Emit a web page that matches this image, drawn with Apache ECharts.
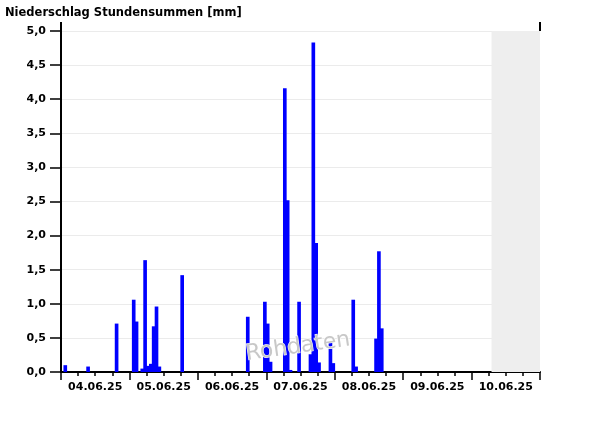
<!DOCTYPE html>
<html>
<head>
<meta charset="utf-8">
<script src="https://cdn.jsdelivr.net/npm/echarts@6/dist/echarts.min.js"></script>
<style>html,body{margin:0;padding:0;background:#fff}#c{width:600px;height:426px}</style>
</head>
<body>
<div id="c"></div>
<script>
// hour index from 04.06.25 00:00 (start of the hourly interval)
const hours = [1, 9, 19, 25, 26, 28, 29, 30, 31, 32, 33, 34, 42, 65, 71, 72, 73, 78, 79, 80, 83, 87, 88, 89, 90, 94, 95, 102, 103, 110, 111, 112];
// precipitation per hour [mm]
const values = [0.10, 0.08, 0.71, 1.06, 0.74, 0.05, 1.64, 0.09, 0.12, 0.67, 0.96, 0.08, 1.42, 0.81, 1.03, 0.71, 0.15, 4.16, 2.52, 0.03, 1.03, 0.26, 4.83, 1.89, 0.14, 0.43, 0.13, 1.06, 0.08, 0.49, 1.77, 0.64];
const dateLabels = ['04.06.25', '05.06.25', '06.06.25', '07.06.25', '08.06.25', '09.06.25', '10.06.25'];
const forecastStart = 151; // hour where the grey (future) region begins
const rangeEnd = 168;

const FONT = 'DejaVu Sans';
const chart = echarts.init(document.getElementById('c'), null, {renderer: 'canvas'});
const data = hours.map((h, i) => [h + 0.5, values[i]]);

// hour width in pixels for the grid (left 61, right 60 on a 600px canvas)
const hourPx = (600 - 61 - 60) / rangeEnd;
const barPx = hourPx + 0.8;

chart.setOption({
  animation: false,
  backgroundColor: '#fff',
  title: {
    text: 'Niederschlag Stundensummen [mm]',
    left: 0, top: 2,
    textStyle: {fontFamily: FONT, fontSize: 11.5, fontWeight: 'bold', color: '#000'}
  },
  grid: {left: 61, right: 60, top: 31, bottom: 54, containLabel: false, outerBoundsMode: 'none'},
  xAxis: [{
    type: 'value', min: 0, max: rangeEnd, interval: 6,
    axisLine: {show: true, onZero: false, lineStyle: {color: '#000', width: 2}},
    axisTick: {show: true, length: 4, lineStyle: {color: '#000', width: 1.5}},
    axisLabel: {
      margin: 10,
      fontFamily: FONT, fontSize: 11, fontWeight: 'bold', color: '#000',
      showMinLabel: true, showMaxLabel: true,
      formatter: v => (v % 24 === 12 ? dateLabels[Math.floor(v / 24)] || '' : '')
    },
    splitLine: {show: false}
  }, {
    type: 'value', min: 0, max: rangeEnd, interval: 24, position: 'bottom',
    axisLine: {show: false},
    axisTick: {show: true, length: 8, lineStyle: {color: '#000', width: 1.5}},
    axisLabel: {show: false},
    splitLine: {show: false}
  }],
  yAxis: [{
    type: 'value', min: 0, max: 5, interval: 0.5,
    axisLine: {show: true, lineStyle: {color: '#000', width: 2}},
    axisTick: {show: true, length: 11, lineStyle: {color: '#000', width: 1.5}},
    axisLabel: {
      margin: 15, fontFamily: FONT, fontSize: 11, fontWeight: 'bold', color: '#000',
      formatter: v => v.toFixed(1).replace('.', ',')
    },
    splitLine: {show: true, lineStyle: {color: '#ebebeb', width: 1}}
  }, {
    type: 'value', min: 0, max: 5, interval: 0.5, position: 'right',
    axisLine: {show: true, lineStyle: {color: '#000', width: 2}},
    axisTick: {show: false}, axisLabel: {show: false}, splitLine: {show: false}
  }],
  series: [{
    type: 'bar',
    xAxisIndex: 0, yAxisIndex: 0,
    data: data,
    barWidth: barPx,
    barMinWidth: barPx,
    barMaxWidth: 20,
    itemStyle: {color: '#0000ff'},
    markArea: {
      silent: true,
      itemStyle: {color: '#eeeeee'},
      data: [[{xAxis: forecastStart}, {xAxis: rangeEnd}]]
    }
  }]
});

// small axis stubs above the plot top, plus watermark
const topLeft = chart.convertToPixel({gridIndex: 0}, [0, 5]);
const topRight = chart.convertToPixel({gridIndex: 0}, [rangeEnd, 5]);
chart.setOption({
  graphic: [
    {type: 'line', shape: {x1: topLeft[0], y1: topLeft[1] - 9, x2: topLeft[0], y2: topLeft[1]}, style: {stroke: '#000', lineWidth: 2}, z: 10},
    {type: 'line', shape: {x1: topRight[0], y1: topRight[1] - 9, x2: topRight[0], y2: topRight[1]}, style: {stroke: '#000', lineWidth: 2}, z: 10},
    {
      type: 'text', x: 298, y: 347, rotation: 0.14, z: 20,
      style: {
        text: 'Rohdaten', font: '22px "DejaVu Sans"', fill: '#c8c8c8',
        align: 'center', verticalAlign: 'middle',
        stroke: '#ffffff', lineWidth: 1,
        shadowColor: 'rgba(30,30,30,0.95)', shadowBlur: 2, shadowOffsetX: 1.5, shadowOffsetY: 1.5
      }
    }
  ]
});
</script>
</body>
</html>
